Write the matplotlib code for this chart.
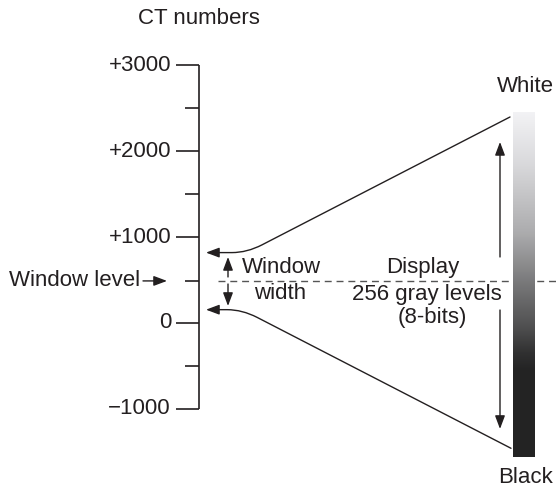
import numpy as np
import matplotlib
matplotlib.use('Agg')
import matplotlib.pyplot as plt
from matplotlib.path import Path
from matplotlib.patches import FancyArrowPatch
from matplotlib.colors import LinearSegmentedColormap

# ── Data (CT numbers, Hounsfield units) ───────────────────────────────────────
MAJOR_TICKS = [-1000, 0, 1000, 2000, 3000]
MAJOR_LABELS = ['\u22121000', '0', '+1000', '+2000', '+3000']
MINOR_TICKS = [-500, 1500, 2500]
WINDOW_LEVEL = 490
WINDOW_LOW = 155
WINDOW_HIGH = 820

# display scale drawn beside the CT axis (same vertical units)
DISPLAY_WHITE = 2400
DISPLAY_BLACK = -1460
BAR_TOP = 2458
BAR_BOTTOM = -1561

# gray ramp of the display bar: position from top, gray value
RAMP_POS = [0.0, 0.15, 0.35, 0.5, 0.62, 0.70, 0.75, 1.0]
RAMP_GRAY = [0.96, 0.86, 0.68, 0.47, 0.32, 0.19, 0.14, 0.14]

# ── Style ──────────────────────────────────────────────────────────────────────
INK = '#231f20'
FONT = 'Liberation Sans'
FS = 16
plt.rcParams['font.family'] = [FONT, 'DejaVu Sans']

fig = plt.figure(figsize=(5.56, 4.90), dpi=100)
ax = fig.add_axes([0, 0, 1, 1])
ax.set_xlim(0, 556)
ax.set_ylim(-1946, 3763)
ax.axis('off')

AX_X = 199

# ── CT number axis ─────────────────────────────────────────────────────────────
ax.plot([AX_X, AX_X], [min(MAJOR_TICKS), max(MAJOR_TICKS)], color=INK, lw=1.2,
        solid_capstyle='butt')
for v, lab in zip(MAJOR_TICKS, MAJOR_LABELS):
    ax.plot([176, AX_X], [v, v], color=INK, lw=1.2, solid_capstyle='butt')
    ax.text(171, v, lab, ha='right', va='center', fontsize=FS, color=INK)
for v in MINOR_TICKS + [WINDOW_LEVEL]:
    ax.plot([185, AX_X], [v, v], color=INK, lw=1.2, solid_capstyle='butt')

ax.text(AX_X, 3553, 'CT numbers', ha='center', va='center', fontsize=FS, color=INK)

# window level label + arrow
ax.text(140, WINDOW_LEVEL, 'Window level', ha='right', va='center', fontsize=FS, color=INK)


def arrow(x0, y0, x1, y1, path=None):
    style = '-|>,head_length=0.8,head_width=0.3'
    if path is not None:
        p = FancyArrowPatch(path=path, arrowstyle=style, mutation_scale=10,
                            color=INK, lw=1.0, shrinkA=0, shrinkB=0)
    else:
        p = FancyArrowPatch((x0, y0), (x1, y1), arrowstyle=style, mutation_scale=10,
                            color=INK, lw=1.0, shrinkA=0, shrinkB=0)
    ax.add_patch(p)


arrow(143, WINDOW_LEVEL, 167, WINDOW_LEVEL)

# dashed window level line (runs behind the bar)
ax.plot([218, 556], [WINDOW_LEVEL, WINDOW_LEVEL], color='#555555', lw=1.0,
        ls=(0, (5, 3.5)), zorder=1)

# ── mapping curves: window bounds -> display white / black ────────────────────
slope = (DISPLAY_WHITE - WINDOW_HIGH) / (510 - 247)
upper = Path([(510, DISPLAY_WHITE), (262, WINDOW_HIGH + 15 * slope),
              (247, WINDOW_HIGH), (232, WINDOW_HIGH), (206, WINDOW_HIGH)],
             [Path.MOVETO, Path.LINETO, Path.CURVE3, Path.CURVE3, Path.LINETO])
corner_lo = 511 - (WINDOW_LOW - DISPLAY_BLACK) / slope
lower = Path([(511, DISPLAY_BLACK), (corner_lo + 15, WINDOW_LOW - 15 * slope),
              (corner_lo, WINDOW_LOW), (corner_lo - 15, WINDOW_LOW), (206, WINDOW_LOW)],
             [Path.MOVETO, Path.LINETO, Path.CURVE3, Path.CURVE3, Path.LINETO])
arrow(0, 0, 0, 0, path=upper)
arrow(0, 0, 0, 0, path=lower)

# window width double arrow
arrow(228, 536, 228, 769)
arrow(228, 454, 228, 198)
ax.text(281, 652, 'Window', ha='center', va='center', fontsize=FS, color=INK)
ax.text(280, 338, 'width', ha='center', va='center', fontsize=FS, color=INK)

# display double arrow
arrow(500, 769, 500, 2109)
arrow(500, 151, 500, -1235)
ax.text(423, 641, 'Display', ha='center', va='center', fontsize=FS, color=INK)
ax.text(427, 326, '256 gray levels', ha='center', va='center', fontsize=FS, color=INK)
ax.text(432, 58, '(8-bits)', ha='center', va='center', fontsize=FS, color=INK)

# ── gray bar ───────────────────────────────────────────────────────────────────
ramp = LinearSegmentedColormap.from_list(
    'ramp', [(p, (g * 0.99, g * 0.99, g)) for p, g in zip(RAMP_POS, RAMP_GRAY)])
grad = np.linspace(0, 1, 256).reshape(-1, 1)
ax.imshow(grad, cmap=ramp, extent=[513, 535, BAR_BOTTOM, BAR_TOP], aspect='auto',
          origin='upper', zorder=3, interpolation='bilinear')

ax.text(525, 2750, 'White', ha='center', va='center', fontsize=FS, color=INK)
ax.text(526, -1806, 'Black', ha='center', va='center', fontsize=FS, color=INK)

fig.savefig('out.png', dpi=100)
